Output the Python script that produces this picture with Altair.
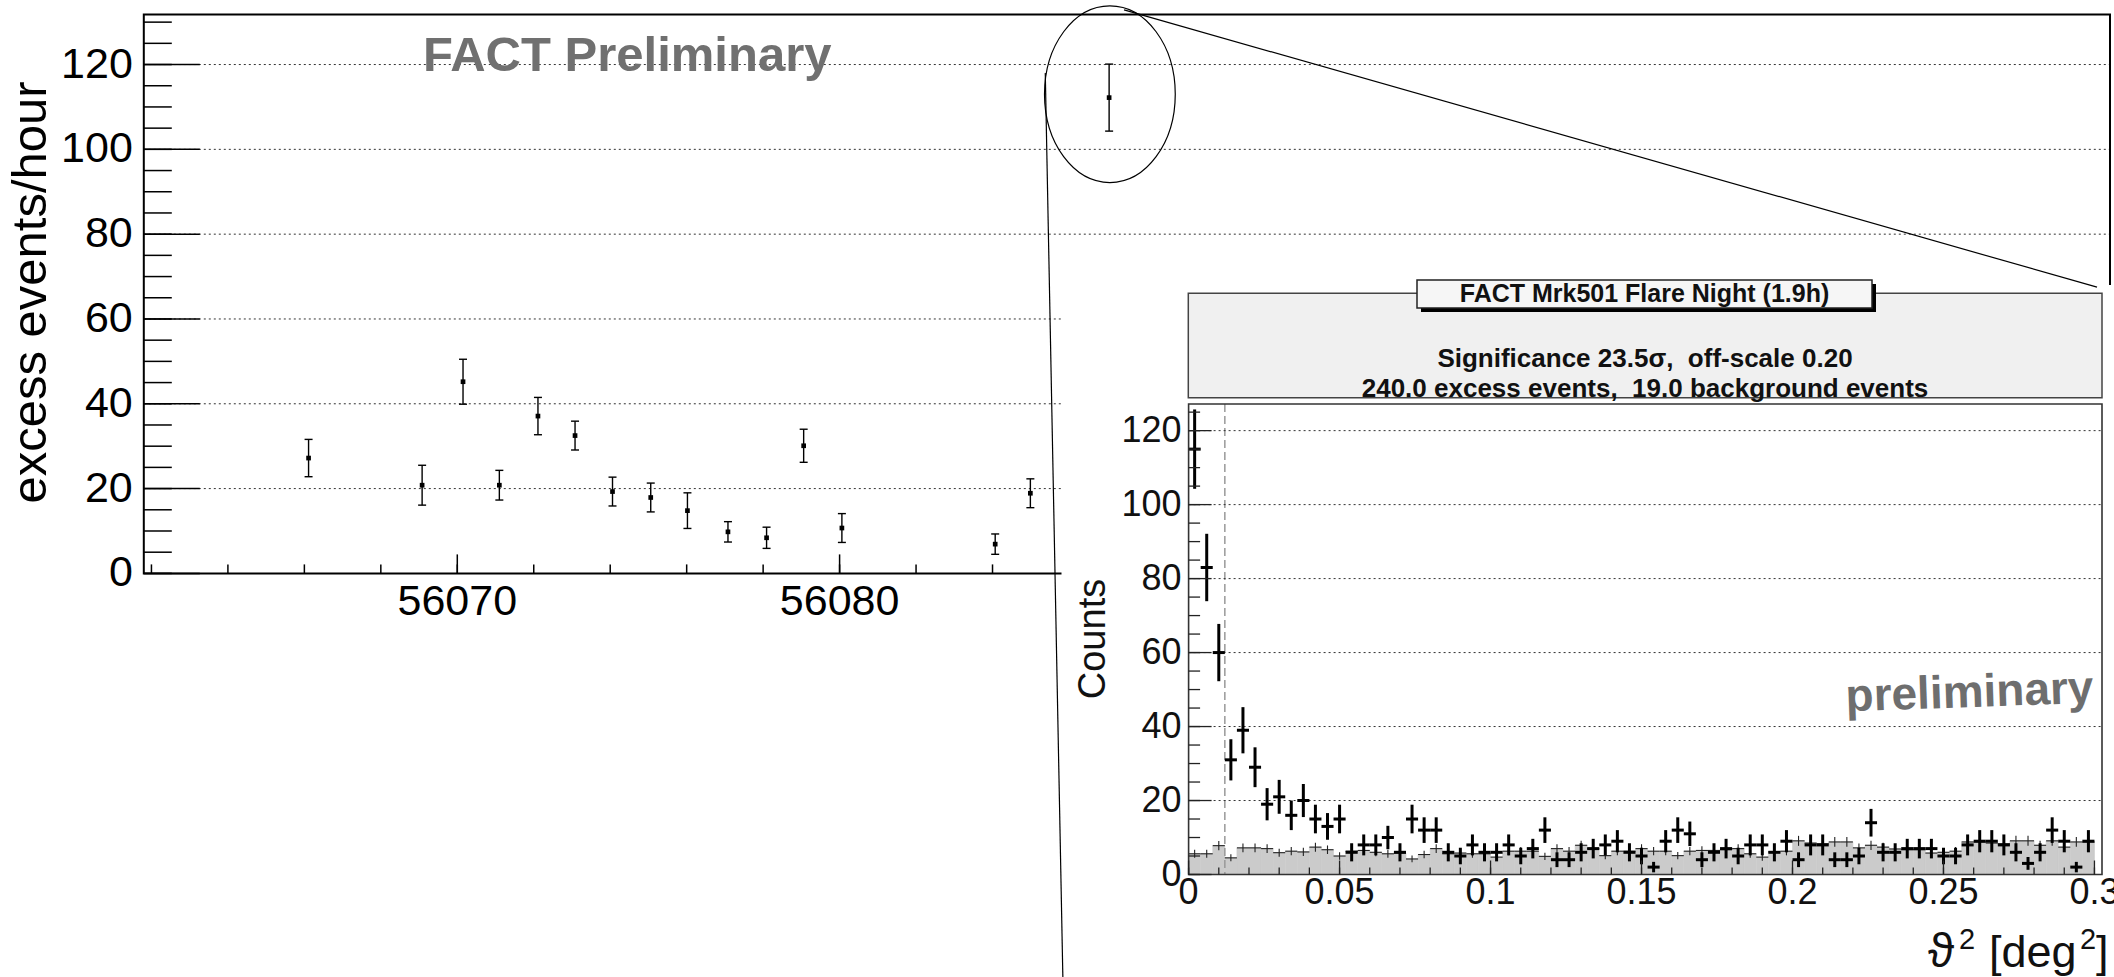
import altair as alt
import numpy as np
import pandas as pd

# ------------------------------------------------------------------
# Light curve (main panel): nightly excess rate
# ------------------------------------------------------------------
lc_mjd = [56066.11, 56069.08, 56070.15, 56071.10, 56072.11, 56073.08, 56074.06,
          56075.06, 56076.02, 56077.08, 56078.09, 56079.06, 56080.06, 56084.07,
          56084.99, 56087.05]
lc_rate = [27.2, 20.8, 45.2, 20.8, 37.1, 32.5, 19.3, 17.9, 14.8, 9.8, 8.4, 30.1,
           10.7, 6.9, 18.9, 112.2]
lc_err = [4.4, 4.7, 5.3, 3.5, 4.4, 3.4, 3.4, 3.4, 4.2, 2.4, 2.5, 3.9, 3.4, 2.4,
          3.4, 7.9]
lc_y_major = [0, 20, 40, 60, 80, 100, 120]
lc_y_labels = ["0", "20", "40", "60", "80", "100", "120"]
lc_y_minor = list(range(0, 131, 5))
lc_x_major = [56070, 56080]
lc_x_labels = ["56070", "56080"]
lc_x_minor = list(range(56062, 56113, 2))

# ------------------------------------------------------------------
# theta^2 distribution of the flare night (inset)
# ------------------------------------------------------------------
bin_width = 0.004
off_scale = 0.20
theta_cut = 0.012
th_on = [115, 83, 60, 31, 39, 29, 19, 21, 16, 20, 15, 13, 15,
         6, 8, 8, 10, 6, 15, 12, 12, 6, 5, 8, 6,
         6, 8, 5, 7, 12, 4, 4, 6, 7, 8, 9, 6, 5, 2, 9, 12, 11, 4, 6, 7, 5, 8, 8, 6, 9,
         4, 8, 8, 4, 4, 5, 14, 6, 6, 7, 7, 7, 5, 5, 8, 9, 9, 8, 6, 3, 6, 12, 9, 2, 9]
th_off = [5.6, 5.6, 7.8, 4.5, 7.2, 7.2, 7.0, 5.9, 6.3, 6.1, 7.4, 6.7, 5.0,
          6.3, 6.5, 6.0, 5.6, 5.8, 4.2, 5.4, 7.0, 5.6, 5.8, 5.6, 5.6,
          4.7, 6.3, 6.3, 6.3, 4.9, 7.0, 6.3, 7.9, 7.0, 5.1, 6.3, 6.3, 7.0, 6.3, 6.3,
          5.1, 6.3, 6.5, 6.5, 6.7, 7.0, 5.6, 4.7, 6.1, 6.3,
          9.1, 8.5, 8.3, 8.8, 8.8, 7.2, 7.9, 7.4, 6.9, 6.7, 6.7, 5.8, 6.0, 6.3, 8.8,
          8.8, 8.5, 8.3, 9.1, 9.1, 7.9, 9.1, 7.4, 8.8, 8.8]
th_y_major = [0, 20, 40, 60, 80, 100, 120]
th_y_labels = ["0", "20", "40", "60", "80", "100", "120"]
th_y_minor = list(range(0, 126, 5))
th_x_major = [0, 0.05, 0.1, 0.15, 0.2, 0.25, 0.3]
th_x_labels = ["0", "0.05", "0.1", "0.15", "0.2", "0.25", "0.3"]
th_x_minor = [round(0.01 * i, 2) for i in range(31)]

# ------------------------------------------------------------------
# layout
# ------------------------------------------------------------------
W, H = 2114, 977
FONT = "Liberation Sans, Arial, Helvetica, DejaVu Sans, sans-serif"
NB = "\u00a0"

LX_DOM, LX_RNG = [56061.8, 56113.23], [143.8, 2110.0]
LY_DOM, LY_RNG = [0, 131.8], [573.4, 14.5]
IX_DOM, IX_RNG = [0, 0.3025], [1188.6, 2102.0]
IY_DOM, IY_RNG = [0, 127.2], [874.5, 404.0]


def S(dom, rng):
    return alt.Scale(domain=dom, range=rng, nice=False, zero=False)


def LX(f):
    return alt.X(f + ":Q", scale=S(LX_DOM, LX_RNG), axis=None)


def LY(f):
    return alt.Y(f + ":Q", scale=S(LY_DOM, LY_RNG), axis=None)


def IX(f):
    return alt.X(f + ":Q", scale=S(IX_DOM, IX_RNG), axis=None)


def IY(f):
    return alt.Y(f + ":Q", scale=S(IY_DOM, IY_RNG), axis=None)


one = pd.DataFrame({"k": [0]})
layers = []


def label(text, x, y, size, align="left", weight="normal", color="#111", angle=0):
    props = dict(text=text, align=align, baseline="alphabetic", fontSize=size,
                 fontWeight=weight, font=FONT, color=color)
    if angle:
        props["angle"] = angle
    return alt.Chart(one).mark_text(**props).encode(x=alt.value(x), y=alt.value(y))


# ---------------- main panel ----------------
grid_l = pd.DataFrame({"v": lc_y_major[1:]})
grid_l["x0"] = LX_DOM[0]
grid_l["x1"] = LX_DOM[1]
layers.append(alt.Chart(grid_l).mark_rule(color="#333", strokeWidth=1, strokeDash=[2, 3])
              .encode(x=LX("x0"), x2=alt.X2("x1"), y=LY("v")))

frame_l = pd.DataFrame({"x0": [LX_DOM[0]], "x1": [LX_DOM[1]], "y0": [LY_DOM[0]], "y1": [LY_DOM[1]]})
layers.append(alt.Chart(frame_l).mark_rect(fillOpacity=0, stroke="black", strokeWidth=2)
              .encode(x=LX("x0"), x2=alt.X2("x1"), y=LY("y0"), y2=alt.Y2("y1")))

AX_L, AX_B = LX_RNG[0], LY_RNG[0]
layers.append(alt.Chart(pd.DataFrame({"v": lc_y_minor})).mark_rule(color="black", strokeWidth=1.5)
              .encode(y=LY("v"), x=alt.value(AX_L), x2=alt.value(AX_L + 28)))
layers.append(alt.Chart(pd.DataFrame({"v": lc_y_major})).mark_rule(color="black", strokeWidth=1.5)
              .encode(y=LY("v"), x=alt.value(AX_L), x2=alt.value(AX_L + 56)))
layers.append(alt.Chart(pd.DataFrame({"v": lc_x_minor})).mark_rule(color="black", strokeWidth=1.5)
              .encode(x=LX("v"), y=alt.value(AX_B), y2=alt.value(AX_B - 9)))
layers.append(alt.Chart(pd.DataFrame({"v": lc_x_major})).mark_rule(color="black", strokeWidth=1.5)
              .encode(x=LX("v"), y=alt.value(AX_B), y2=alt.value(AX_B - 19)))

layers.append(alt.Chart(pd.DataFrame({"v": lc_y_major, "t": lc_y_labels}))
              .mark_text(align="right", baseline="middle", fontSize=43, font=FONT, color="black")
              .encode(y=LY("v"), x=alt.value(AX_L - 11), text="t:N"))
layers.append(alt.Chart(pd.DataFrame({"v": lc_x_major, "t": lc_x_labels}))
              .mark_text(align="center", baseline="alphabetic", fontSize=43, font=FONT, color="black")
              .encode(x=LX("v"), y=alt.value(615), text="t:N"))

lc = pd.DataFrame({"mjd": lc_mjd, "rate": lc_rate, "err": lc_err})
lc["lo"] = lc["rate"] - lc["err"]
lc["hi"] = lc["rate"] + lc["err"]
layers.append(alt.Chart(lc).mark_rule(color="black", strokeWidth=1.4)
              .encode(x=LX("mjd"), y=LY("lo"), y2=alt.Y2("hi")))
for col in ["lo", "hi"]:
    layers.append(alt.Chart(lc).mark_tick(orient="horizontal", size=8, thickness=1.4, color="black", opacity=1)
                  .encode(x=LX("mjd"), y=LY(col)))
layers.append(alt.Chart(lc).mark_square(size=22, color="black", opacity=1)
              .encode(x=LX("mjd"), y=LY("rate")))

layers.append(label("FACT Preliminary", 423, 70.5, 49, weight="bold", color="#707070"))
layers.append(label("excess events/hour", 45.5, 292.5, 49, align="center", color="black", angle=270))

# white background of the pasted inset
layers.append(alt.Chart(one).mark_rect(fill="white", strokeWidth=0)
              .encode(x=alt.value(1061.5), x2=alt.value(W), y=alt.value(285), y2=alt.value(H)))

# ---------------- inset ----------------
nb = len(th_on)
th = pd.DataFrame({"on": th_on, "off": th_off})
th["lo"] = np.arange(nb) * bin_width
th["hi"] = th["lo"] + bin_width
th["c"] = th["lo"] + bin_width / 2
th["zero"] = 0.0
th["on_lo"] = th["on"] - np.sqrt(th["on"])
th["on_hi"] = th["on"] + np.sqrt(th["on"])
th["off_e"] = np.sqrt(off_scale * th["off"])
th["off_lo"] = th["off"] - th["off_e"]
th["off_hi"] = th["off"] + th["off_e"]

layers.append(alt.Chart(th).mark_rect(fill="#cbcbcb", stroke="#cbcbcb", strokeWidth=0.6)
              .encode(x=IX("lo"), x2=alt.X2("hi"), y=IY("zero"), y2=alt.Y2("off")))
layers.append(alt.Chart(pd.DataFrame({"c": [theta_cut]}))
              .mark_rule(color="#999", strokeWidth=1.5, strokeDash=[8, 4])
              .encode(x=IX("c"), y=alt.value(IY_RNG[1]), y2=alt.value(IY_RNG[0])))

grid_i = pd.DataFrame({"v": th_y_major[1:]})
grid_i["x0"] = IX_DOM[0]
grid_i["x1"] = IX_DOM[1]
layers.append(alt.Chart(grid_i).mark_rule(color="#333", strokeWidth=1, strokeDash=[2, 3])
              .encode(x=IX("x0"), x2=alt.X2("x1"), y=IY("v")))

layers.append(alt.Chart(th).mark_rule(color="#222", strokeWidth=1.1)
              .encode(x=IX("c"), y=IY("off_lo"), y2=alt.Y2("off_hi")))
layers.append(alt.Chart(th).mark_rule(color="#222", strokeWidth=1.1)
              .encode(x=IX("lo"), x2=alt.X2("hi"), y=IY("off")))
layers.append(alt.Chart(th).mark_rule(color="black", strokeWidth=3)
              .encode(x=IX("c"), y=IY("on_lo"), y2=alt.Y2("on_hi")))
layers.append(alt.Chart(th).mark_rule(color="black", strokeWidth=3)
              .encode(x=IX("lo"), x2=alt.X2("hi"), y=IY("on")))

frame_i = pd.DataFrame({"x0": [IX_DOM[0]], "x1": [IX_DOM[1]], "y0": [IY_DOM[0]], "y1": [IY_DOM[1]]})
layers.append(alt.Chart(frame_i).mark_rect(fillOpacity=0, stroke="#333", strokeWidth=1.6)
              .encode(x=IX("x0"), x2=alt.X2("x1"), y=IY("y0"), y2=alt.Y2("y1")))

IA_L, IA_B = IX_RNG[0], IY_RNG[0]
layers.append(alt.Chart(pd.DataFrame({"v": th_y_minor})).mark_rule(color="#222", strokeWidth=1.3)
              .encode(y=IY("v"), x=alt.value(IA_L), x2=alt.value(IA_L + 11.5)))
layers.append(alt.Chart(pd.DataFrame({"v": th_y_major})).mark_rule(color="#222", strokeWidth=1.3)
              .encode(y=IY("v"), x=alt.value(IA_L), x2=alt.value(IA_L + 23)))
layers.append(alt.Chart(pd.DataFrame({"v": th_x_minor})).mark_rule(color="#222", strokeWidth=1.3)
              .encode(x=IX("v"), y=alt.value(IA_B), y2=alt.value(IA_B - 7)))
layers.append(alt.Chart(pd.DataFrame({"v": th_x_major})).mark_rule(color="#222", strokeWidth=1.3)
              .encode(x=IX("v"), y=alt.value(IA_B), y2=alt.value(IA_B - 14)))

layers.append(alt.Chart(pd.DataFrame({"v": th_y_major, "t": th_y_labels}))
              .mark_text(align="right", baseline="middle", fontSize=36, font=FONT, color="#111")
              .encode(y=IY("v"), x=alt.value(IA_L - 7), text="t:N"))
layers.append(alt.Chart(pd.DataFrame({"v": th_x_major, "t": th_x_labels}))
              .mark_text(align="center", baseline="alphabetic", fontSize=36, font=FONT, color="#111")
              .encode(x=IX("v"), y=alt.value(904), text="t:N"))

layers.append(label("Counts", 1105, 639, 38, align="center", angle=270))
# x-axis title  "ϑ² [deg²]"  with ROOT-style superscripts
layers.append(label("ϑ", 1928, 967, 48))
layers.append(label("2", 1959, 949, 29))
layers.append(label("[deg", 1989, 967, 45))
layers.append(label("2", 2080, 949, 29))
layers.append(label("]", 2096, 967, 45))

# statistics box and title box
layers.append(alt.Chart(one).mark_rect(fill="#f0f0f0", stroke="#444", strokeWidth=1.5)
              .encode(x=alt.value(1188.3), x2=alt.value(2102), y=alt.value(293.3), y2=alt.value(397.7)))
layers.append(label("Significance 23.5σ," + NB + " off-scale 0.20", 1645, 366.5, 26,
                    align="center", weight="bold"))
layers.append(label("240.0 excess events," + NB + " 19.0 background events", 1645, 396.5, 26,
                    align="center", weight="bold"))
layers.append(alt.Chart(one).mark_rect(fill="black")
              .encode(x=alt.value(1421), x2=alt.value(1876), y=alt.value(284), y2=alt.value(312)))
layers.append(alt.Chart(one).mark_rect(fill="#f6f6f6", stroke="#222", strokeWidth=1.5)
              .encode(x=alt.value(1417), x2=alt.value(1872), y=alt.value(280), y2=alt.value(308)))
layers.append(label("FACT Mrk501 Flare Night (1.9h)", 1644.5, 302, 25, align="center", weight="bold"))

layers.append(label("preliminary", 1970, 707, 46, align="center", weight="bold", color="#6e6e6e", angle=358))

# zoom annotation: ellipse around the flare night and connecting lines
ell = pd.DataFrame({"x": [56087.07], "y": [113.0]})
ELLIPSE = "M0,-1A0.74,1,0,1,1,0,1A0.74,1,0,1,1,0,-1Z"
layers.append(alt.Chart(ell).mark_point(shape=ELLIPSE, size=176.7 ** 2, filled=False, color="black",
                                        strokeWidth=1.2, opacity=1)
              .encode(x=LX("x"), y=LY("y")))
zl = pd.DataFrame({"x0": [56085.38, 56087.44], "y0": [118.0, 132.9],
                   "x1": [56085.84, 56112.89], "y1": [-95.2, 67.5]})
layers.append(alt.Chart(zl).mark_rule(color="black", strokeWidth=1.2)
              .encode(x=LX("x0"), y=LY("y0"), x2=alt.X2("x1"), y2=alt.Y2("y1")))

chart = (alt.layer(*layers)
         .resolve_scale(x="independent", y="independent")
         .properties(width=W, height=H, padding=0, autosize=alt.AutoSizeParams(type="none"))
         .configure_view(strokeWidth=0))

chart.save("out.html", embed_options={"renderer": "svg", "actions": False})
